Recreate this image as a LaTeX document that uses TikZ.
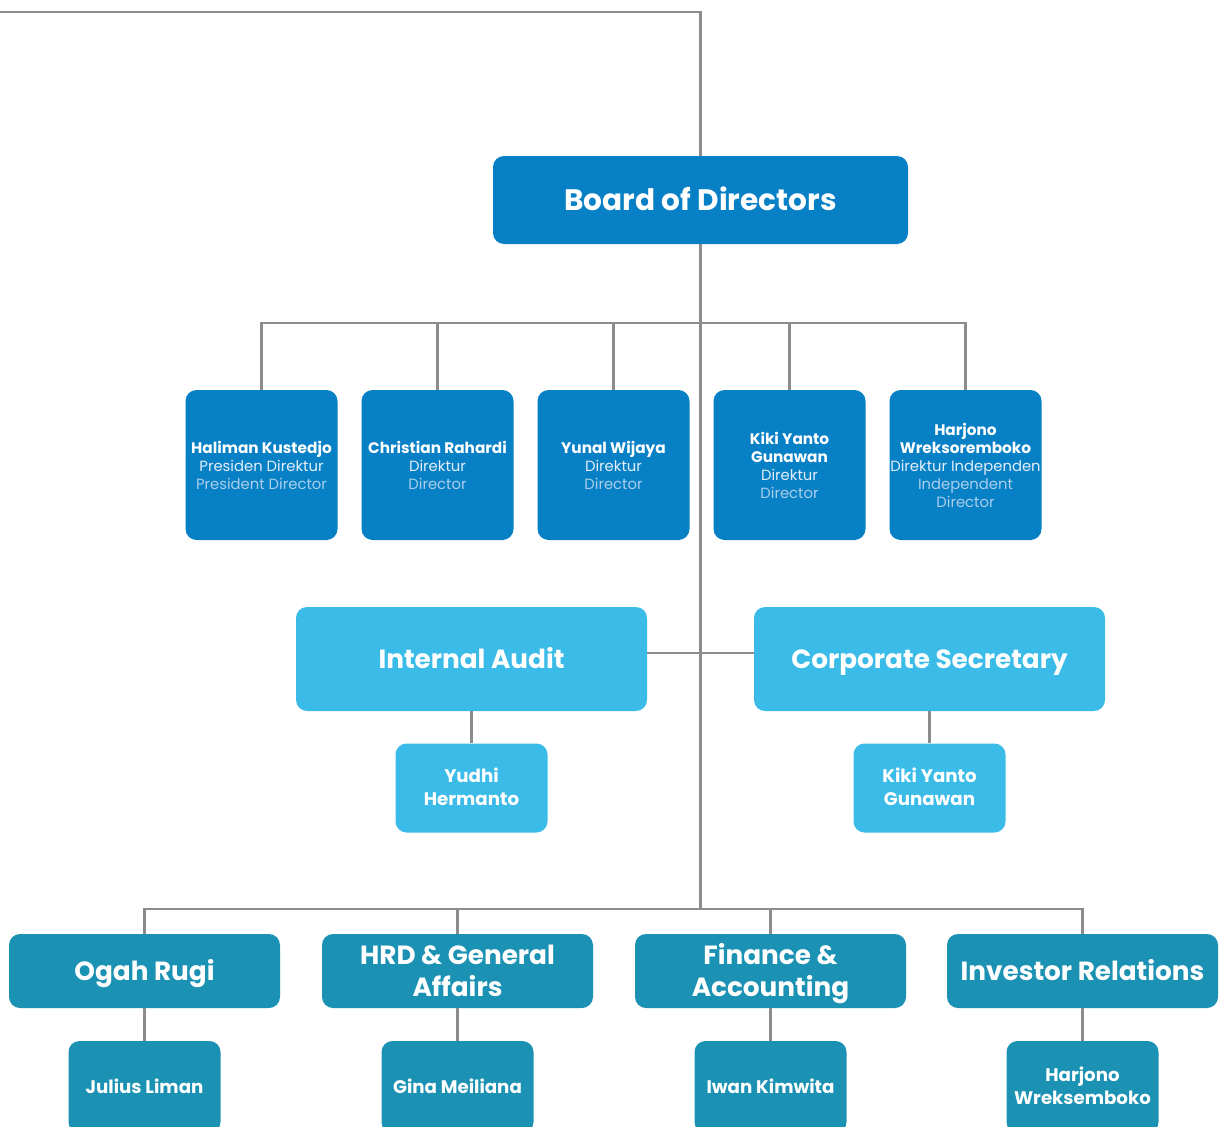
\documentclass[tikz,border=0pt]{standalone}
\usepackage{fontspec}
\setmainfont{Poppins}
\definecolor{dblue}{HTML}{0880C6}
\definecolor{lblue}{HTML}{3BBBE8}
\definecolor{teal}{HTML}{1B92B3}
\definecolor{lineg}{HTML}{8C8C8C}
\definecolor{subA}{HTML}{E2EEF8}
\definecolor{subB}{HTML}{A9CFEA}
\newcommand{\nmX}[1]{{\fontsize{15.3}{18}\selectfont\bfseries #1}}
\newcommand{\subAX}[1]{\textcolor{subA}{#1}}
\newcommand{\subBX}[1]{\textcolor{subB}{#1}}
\begin{document}
\begin{tikzpicture}[x=1pt,y=-1pt,
  conn/.style={draw=lineg,line width=2.6pt},
  capc/.style={text height=#1,text depth=0pt},
  bod/.style={rectangle,rounded corners=11pt,fill=dblue,text=white,minimum width=415pt,minimum height=88pt,inner sep=0pt,font=\fontsize{29.6}{32}\selectfont\bfseries,capc=20.7pt},
  dir/.style={rectangle,rounded corners=11pt,fill=dblue,text=white,minimum width=152pt,minimum height=150pt,inner sep=0pt,align=center,font=\fontsize{14.8}{18}\selectfont},
  unit/.style={rectangle,rounded corners=11pt,fill=lblue,text=white,minimum width=351pt,minimum height=104pt,inner sep=0pt,font=\fontsize{26.3}{30}\selectfont\bfseries,capc=18.4pt},
  usub/.style={rectangle,rounded corners=11pt,fill=lblue,text=white,minimum width=152pt,minimum height=89pt,inner sep=0pt,align=center,font=\fontsize{18.2}{23}\selectfont\bfseries,capc=35.7pt},
  dept/.style={rectangle,rounded corners=11pt,fill=teal,text=white,minimum width=271pt,minimum height=74pt,inner sep=0pt,align=center,font=\fontsize{26.3}{32}\selectfont\bfseries,capc=18.4pt},
  dept2/.style={dept,capc=50.4pt},
  dsub/.style={rectangle,rounded corners=11pt,fill=teal,text=white,minimum width=152pt,minimum height=92pt,inner sep=0pt,align=center,font=\fontsize{18.2}{23}\selectfont\bfseries,capc=12.7pt},
  dsub2/.style={dsub,capc=35.7pt}
]
\useasboundingbox (0,0) rectangle (1219,1127);
\clip (0,0) rectangle (1219,1127);
% nodes
\node[bod] (board) at (700.5,200) {Board of Directors};
\node[dir] (d1) at (261.5,465) {\nmX{Haliman Kustedjo}\\\subAX{Presiden Direktur}\\\subBX{President Director}};
\node[dir] (d2) at (437.5,465) {\nmX{Christian Rahardi}\\\subAX{Direktur}\\\subBX{Director}};
\node[dir] (d3) at (613.5,465) {\nmX{Yunal Wijaya}\\\subAX{Direktur}\\\subBX{Director}};
\node[dir] (d4) at (789.5,465) {\nmX{Kiki Yanto}\\\nmX{Gunawan}\\\subAX{Direktur}\\\subBX{Director}};
\node[dir] (d5) at (965.5,465) {\nmX{Harjono}\\\nmX{Wreksoremboko}\\\subAX{Direktur Independen}\\\subBX{Independent}\\\subBX{Director}};
\node[unit] (ia) at (471.5,659) {Internal Audit};
\node[unit] (cs) at (929.5,659) {Corporate Secretary};
\node[usub] (s1) at (471.5,788) {Yudhi\\Hermanto};
\node[usub] (s2) at (929.5,788) {Kiki Yanto\\Gunawan};
\node[dept] (o1) at (144.5,971) {Ogah Rugi};
\node[dept2] (o2) at (457.5,971) {HRD \& General\\Affairs};
\node[dept2] (o3) at (770.5,971) {Finance \&\\Accounting};
\node[dept] (o4) at (1082.5,971) {Investor Relations};
\node[dsub] (p1) at (144.5,1087) {Julius Liman};
\node[dsub] (p2) at (457.5,1087) {Gina Meiliana};
\node[dsub] (p3) at (770.5,1087) {Iwan Kimwita};
\node[dsub2] (p4) at (1082.5,1087) {Harjono\\Wreksemboko};
% coordinates
\coordinate (tl) at (0,12);
\coordinate (bus1) at (700.5,323);
\coordinate (mid) at (700.5,653);
\coordinate (bus2) at (700.5,909);
% connectors
\draw[conn] (tl) -| (board.north);
\draw[conn] (board.south) -- (bus2);
\draw[conn] (d1.north) |- (bus1) -| (d5.north);
\draw[conn] (d2.north) -- (d2.north |- bus1);
\draw[conn] (d3.north) -- (d3.north |- bus1);
\draw[conn] (d4.north) -- (d4.north |- bus1);
\draw[conn] (ia.east |- mid) -- (cs.west |- mid);
\draw[conn] (ia.south) -- (s1.north);
\draw[conn] (cs.south) -- (s2.north);
\draw[conn] (o1.north) |- (bus2) -| (o4.north);
\draw[conn] (o2.north) -- (o2.north |- bus2);
\draw[conn] (o3.north) -- (o3.north |- bus2);
\draw[conn] (o1.south) -- (p1.north);
\draw[conn] (o2.south) -- (p2.north);
\draw[conn] (o3.south) -- (p3.north);
\draw[conn] (o4.south) -- (p4.north);
\end{tikzpicture}
\end{document}
